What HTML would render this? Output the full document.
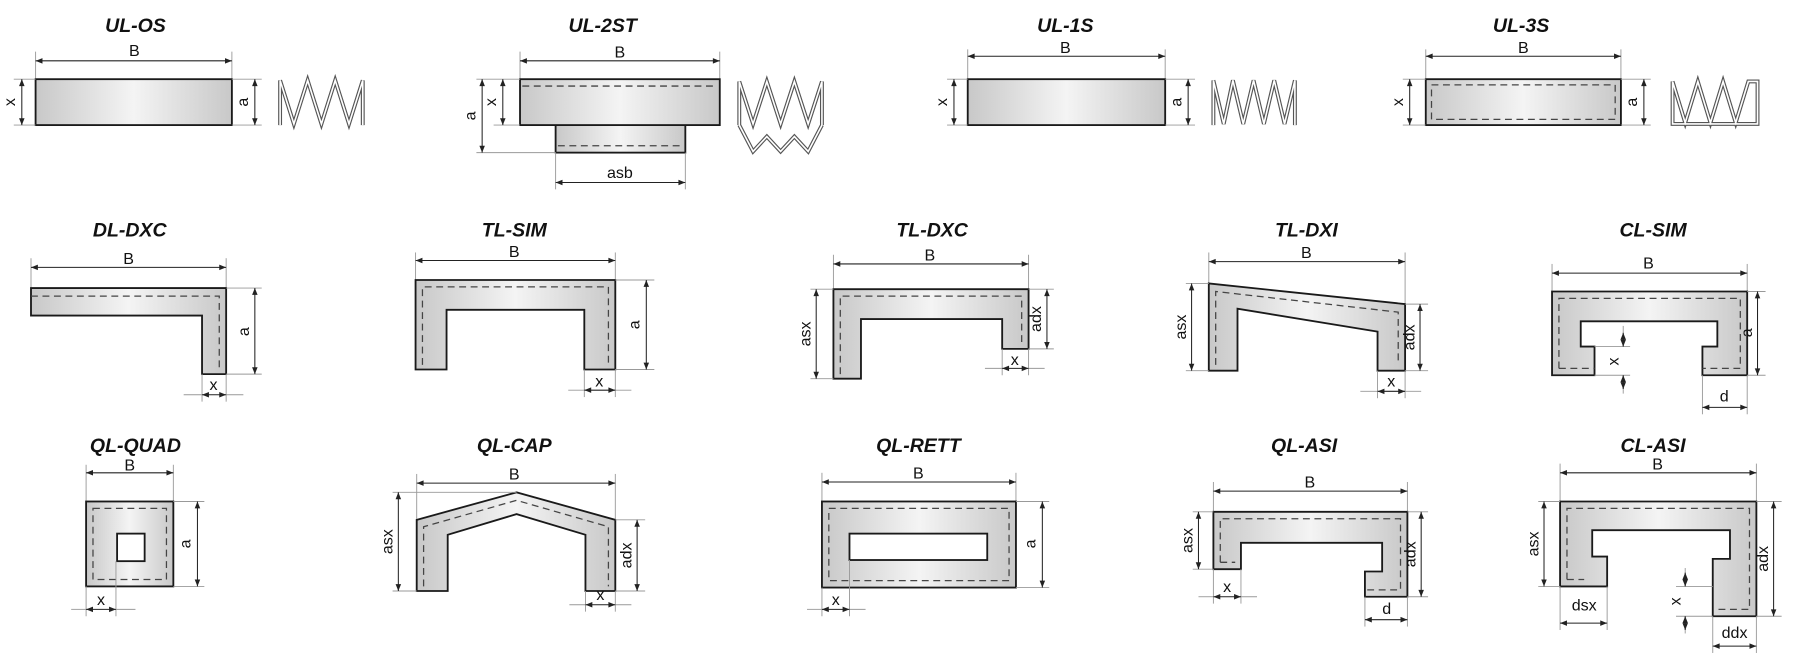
<!DOCTYPE html>
<html><head><meta charset="utf-8"><style>
html,body{margin:0;padding:0;background:#fff;}
svg{display:block}
.t{font-family:"Liberation Sans",sans-serif;font-weight:bold;font-style:italic;font-size:17px;fill:#111;text-anchor:middle}
.l{font-family:"Liberation Sans",sans-serif;font-size:14px;fill:#111;text-anchor:middle}
.s{fill:url(#g);stroke:#1a1a1a;stroke-width:1.6}
.h{fill:#fff;stroke:#1a1a1a;stroke-width:1.6}
.d{fill:none;stroke:#444;stroke-width:1.1;stroke-dasharray:6 4}
.m{stroke:#222;stroke-width:0.9;marker-start:url(#a);marker-end:url(#a)}
.e{stroke:#999;stroke-width:0.8}
.sp{fill:none;stroke:#555;stroke-width:3.4;stroke-linejoin:miter}
.sp2{fill:none;stroke:#fff;stroke-width:1.4;stroke-linejoin:miter}
</style></head><body>
<svg width="1800" height="661" viewBox="0 0 1568 576" preserveAspectRatio="none" xmlns="http://www.w3.org/2000/svg">
<defs>
<linearGradient id="g" x1="0" x2="1" y1="0" y2="0"><stop offset="0" stop-color="#c8c8c8"/><stop offset="0.5" stop-color="#f4f4f4"/><stop offset="1" stop-color="#c8c8c8"/></linearGradient>
<marker id="a" viewBox="0 0 10 10" refX="10" refY="5" markerWidth="8" markerHeight="6" orient="auto-start-reverse" markerUnits="userSpaceOnUse"><path d="M0,1 L10,5 L0,9 z" fill="#222"/></marker>
</defs>

<!-- ROW 1 -->
<text class="t" x="118" y="28">UL-OS</text>
<line class="e" x1="31" y1="45" x2="31" y2="69"/><line class="e" x1="202" y1="45" x2="202" y2="69"/>
<line class="m" x1="31" y1="53" x2="202" y2="53"/><text class="l" x="117" y="49">B</text>
<rect class="s" x="31" y="69" width="171" height="40"/>
<line class="e" x1="12" y1="69" x2="31" y2="69"/><line class="e" x1="12" y1="109" x2="31" y2="109"/>
<line class="m" x1="19" y1="69" x2="19" y2="109"/><text class="l" transform="translate(13,89) rotate(-90)">x</text>
<line class="e" x1="202" y1="69" x2="228" y2="69"/><line class="e" x1="202" y1="109" x2="228" y2="109"/>
<line class="m" x1="222" y1="69" x2="222" y2="109"/><text class="l" transform="translate(216,89) rotate(-90)">a</text>
<path class="sp" d="M244,109 L244,70 L256,108 L268,70 L280,108 L292,70 L304,108 L316,70 L316,109"/>
<path class="sp2" d="M244,109 L244,70 L256,108 L268,70 L280,108 L292,70 L304,108 L316,70 L316,109"/>

<text class="t" x="525" y="28">UL-2ST</text>
<line class="e" x1="453" y1="45" x2="453" y2="69"/><line class="e" x1="627" y1="45" x2="627" y2="69"/>
<line class="m" x1="453" y1="53" x2="627" y2="53"/><text class="l" x="540" y="50">B</text>
<rect class="s" x="484" y="109" width="113" height="24"/>
<line class="d" x1="486" y1="127" x2="595" y2="127"/>
<rect class="s" x="453" y="69" width="174" height="40"/>
<line class="d" x1="455" y1="75" x2="625" y2="75"/>
<line class="e" x1="415" y1="69" x2="453" y2="69"/><line class="e" x1="430" y1="109" x2="453" y2="109"/><line class="e" x1="415" y1="133" x2="484" y2="133"/>
<line class="m" x1="420" y1="69" x2="420" y2="133"/><text class="l" transform="translate(414,101) rotate(-90)">a</text>
<line class="m" x1="438" y1="69" x2="438" y2="109"/><text class="l" transform="translate(432,89) rotate(-90)">x</text>
<line class="e" x1="484" y1="133" x2="484" y2="165"/><line class="e" x1="597" y1="133" x2="597" y2="165"/>
<line class="m" x1="484" y1="159" x2="597" y2="159"/><text class="l" x="540" y="155">asb</text>
<path class="sp" d="M644,109 L644,71 L656,108 L668,71 L680,108 L692,71 L704,108 L716,71 L716,109 M644,109 L656,132 L668,119 L680,132 L692,119 L704,132 L716,109"/>
<path class="sp2" d="M644,109 L644,71 L656,108 L668,71 L680,108 L692,71 L704,108 L716,71 L716,109 M644,109 L656,132 L668,119 L680,132 L692,119 L704,132 L716,109"/>

<text class="t" x="928" y="28">UL-1S</text>
<line class="e" x1="843" y1="43" x2="843" y2="69"/><line class="e" x1="1015" y1="43" x2="1015" y2="69"/>
<line class="m" x1="843" y1="49" x2="1015" y2="49"/><text class="l" x="928" y="46">B</text>
<rect class="s" x="843" y="69" width="172" height="40"/>
<line class="e" x1="825" y1="69" x2="843" y2="69"/><line class="e" x1="825" y1="109" x2="843" y2="109"/>
<line class="m" x1="831" y1="69" x2="831" y2="109"/><text class="l" transform="translate(825,89) rotate(-90)">x</text>
<line class="e" x1="1015" y1="69" x2="1041" y2="69"/><line class="e" x1="1015" y1="109" x2="1041" y2="109"/>
<line class="m" x1="1035" y1="69" x2="1035" y2="109"/><text class="l" transform="translate(1029,89) rotate(-90)">a</text>
<path class="sp" d="M1057,109 L1057,70 L1066,108 L1074,70 L1083,108 L1092,70 L1101,108 L1110,70 L1119,108 L1128,70 L1128,109"/>
<path class="sp2" d="M1057,109 L1057,70 L1066,108 L1074,70 L1083,108 L1092,70 L1101,108 L1110,70 L1119,108 L1128,70 L1128,109"/>

<text class="t" x="1325" y="28">UL-3S</text>
<line class="e" x1="1242" y1="43" x2="1242" y2="69"/><line class="e" x1="1412" y1="43" x2="1412" y2="69"/>
<line class="m" x1="1242" y1="49" x2="1412" y2="49"/><text class="l" x="1327" y="46">B</text>
<rect class="s" x="1242" y="69" width="170" height="40"/>
<rect class="d" x="1247" y="74" width="160" height="30"/>
<line class="e" x1="1222" y1="69" x2="1242" y2="69"/><line class="e" x1="1222" y1="109" x2="1242" y2="109"/>
<line class="m" x1="1228" y1="69" x2="1228" y2="109"/><text class="l" transform="translate(1222,89) rotate(-90)">x</text>
<line class="e" x1="1412" y1="69" x2="1438" y2="69"/><line class="e" x1="1412" y1="109" x2="1438" y2="109"/>
<line class="m" x1="1432" y1="69" x2="1432" y2="109"/><text class="l" transform="translate(1426,89) rotate(-90)">a</text>
<path class="sp" d="M1457,108 L1457,71 L1468,107 L1479,71 L1490,107 L1501,71 L1512,107 L1523,71 L1531,71 L1531,108 Z"/>
<path class="sp2" d="M1457,108 L1457,71 L1468,107 L1479,71 L1490,107 L1501,71 L1512,107 L1523,71 L1531,71 L1531,108 Z"/>

<!-- ROW 2 -->
<text class="t" x="113" y="206">DL-DXC</text>
<line class="e" x1="27" y1="225" x2="27" y2="251"/><line class="e" x1="197" y1="225" x2="197" y2="251"/>
<line class="m" x1="27" y1="233" x2="197" y2="233"/><text class="l" x="112" y="230">B</text>
<path class="s" d="M27,251 L197,251 L197,326 L176,326 L176,275 L27,275 Z"/>
<path class="d" d="M27,258 L191,258 L191,322"/>
<line class="e" x1="197" y1="251" x2="228" y2="251"/><line class="e" x1="197" y1="326" x2="228" y2="326"/>
<line class="m" x1="222" y1="251" x2="222" y2="326"/><text class="l" transform="translate(217,289) rotate(-90)">a</text>
<line class="e" x1="176" y1="326" x2="176" y2="350"/><line class="e" x1="197" y1="326" x2="197" y2="350"/>
<line class="e" x1="160" y1="344" x2="176" y2="344"/><line class="e" x1="197" y1="344" x2="212" y2="344"/>
<line class="m" x1="176" y1="344" x2="197" y2="344"/><text class="l" x="186" y="340">x</text>

<text class="t" x="448" y="206">TL-SIM</text>
<line class="e" x1="362" y1="220" x2="362" y2="244"/><line class="e" x1="536" y1="220" x2="536" y2="244"/>
<line class="m" x1="362" y1="227" x2="536" y2="227"/><text class="l" x="448" y="224">B</text>
<path class="s" d="M362,244 L536,244 L536,322 L509,322 L509,270 L389,270 L389,322 L362,322 Z"/>
<path class="d" d="M368,318 L368,250 L530,250 L530,318"/>
<line class="e" x1="536" y1="244" x2="570" y2="244"/><line class="e" x1="536" y1="322" x2="570" y2="322"/>
<line class="m" x1="563" y1="244" x2="563" y2="322"/><text class="l" transform="translate(557,283) rotate(-90)">a</text>
<line class="e" x1="509" y1="322" x2="509" y2="346"/><line class="e" x1="536" y1="322" x2="536" y2="346"/>
<line class="e" x1="495" y1="340" x2="509" y2="340"/><line class="e" x1="536" y1="340" x2="550" y2="340"/>
<line class="m" x1="509" y1="340" x2="536" y2="340"/><text class="l" x="522" y="337">x</text>

<text class="t" x="812" y="206">TL-DXC</text>
<line class="e" x1="726" y1="222" x2="726" y2="252"/><line class="e" x1="896" y1="222" x2="896" y2="252"/>
<line class="m" x1="726" y1="230" x2="896" y2="230"/><text class="l" x="810" y="227">B</text>
<path class="s" d="M726,252 L896,252 L896,304 L873,304 L873,278 L750,278 L750,330 L726,330 Z"/>
<path class="d" d="M732,326 L732,258 L890,258 L890,300"/>
<line class="e" x1="706" y1="252" x2="726" y2="252"/><line class="e" x1="706" y1="330" x2="726" y2="330"/>
<line class="m" x1="711" y1="252" x2="711" y2="330"/><text class="l" transform="translate(706,291) rotate(-90)">asx</text>
<line class="e" x1="896" y1="252" x2="918" y2="252"/><line class="e" x1="896" y1="304" x2="918" y2="304"/>
<line class="m" x1="912" y1="252" x2="912" y2="304"/><text class="l" transform="translate(907,278) rotate(-90)">adx</text>
<line class="e" x1="873" y1="304" x2="873" y2="327"/><line class="e" x1="896" y1="304" x2="896" y2="327"/>
<line class="e" x1="858" y1="321" x2="873" y2="321"/><line class="e" x1="896" y1="321" x2="910" y2="321"/>
<line class="m" x1="873" y1="321" x2="896" y2="321"/><text class="l" x="884" y="318">x</text>

<text class="t" x="1138" y="206">TL-DXI</text>
<line class="e" x1="1053" y1="220" x2="1053" y2="247"/><line class="e" x1="1224" y1="220" x2="1224" y2="265"/>
<line class="m" x1="1053" y1="228" x2="1224" y2="228"/><text class="l" x="1138" y="225">B</text>
<path class="s" d="M1053,247 L1224,265 L1224,323 L1200,323 L1200,289 L1078,269 L1078,323 L1053,323 Z"/>
<path class="d" d="M1059,318 L1059,254 L1218,272 L1218,318"/>
<line class="e" x1="1033" y1="247" x2="1053" y2="247"/><line class="e" x1="1033" y1="323" x2="1053" y2="323"/>
<line class="m" x1="1038" y1="247" x2="1038" y2="323"/><text class="l" transform="translate(1033,285) rotate(-90)">asx</text>
<line class="e" x1="1224" y1="265" x2="1244" y2="265"/><line class="e" x1="1224" y1="323" x2="1244" y2="323"/>
<line class="m" x1="1237" y1="265" x2="1237" y2="323"/><text class="l" transform="translate(1232,294) rotate(-90)">adx</text>
<line class="e" x1="1200" y1="323" x2="1200" y2="347"/><line class="e" x1="1224" y1="323" x2="1224" y2="347"/>
<line class="e" x1="1185" y1="341" x2="1200" y2="341"/><line class="e" x1="1224" y1="341" x2="1238" y2="341"/>
<line class="m" x1="1200" y1="341" x2="1224" y2="341"/><text class="l" x="1212" y="337">x</text>

<text class="t" x="1440" y="206">CL-SIM</text>
<line class="e" x1="1352" y1="230" x2="1352" y2="254"/><line class="e" x1="1522" y1="230" x2="1522" y2="254"/>
<line class="m" x1="1352" y1="238" x2="1522" y2="238"/><text class="l" x="1436" y="234">B</text>
<path class="s" d="M1352,254 L1522,254 L1522,327 L1483,327 L1483,302 L1496,302 L1496,280 L1377,280 L1377,302 L1389,302 L1389,327 L1352,327 Z"/>
<path class="d" d="M1358,321 L1389,321 M1358,321 L1358,260 L1516,260 L1516,321 L1483,321"/>
<line class="e" x1="1522" y1="254" x2="1538" y2="254"/><line class="e" x1="1522" y1="327" x2="1538" y2="327"/>
<line class="m" x1="1531" y1="254" x2="1531" y2="327"/><text class="l" transform="translate(1526,290) rotate(-90)">a</text>
<line class="e" x1="1389" y1="302" x2="1420" y2="302"/><line class="e" x1="1389" y1="327" x2="1420" y2="327"/>
<line class="e" x1="1414" y1="284" x2="1414" y2="302"/><line class="e" x1="1414" y1="327" x2="1414" y2="343"/>
<line class="m" x1="1414" y1="290" x2="1414" y2="302"/><line class="m" x1="1414" y1="339" x2="1414" y2="327"/>
<text class="l" transform="translate(1410,315) rotate(-90)">x</text>
<line class="e" x1="1483" y1="327" x2="1483" y2="361"/><line class="e" x1="1522" y1="327" x2="1522" y2="361"/>
<line class="m" x1="1483" y1="355" x2="1522" y2="355"/><text class="l" x="1502" y="350">d</text>

<!-- ROW 3 -->
<text class="t" x="118" y="394">QL-QUAD</text>
<line class="e" x1="75" y1="405" x2="75" y2="437"/><line class="e" x1="151" y1="405" x2="151" y2="437"/>
<line class="m" x1="75" y1="412" x2="151" y2="412"/><text class="l" x="113" y="410">B</text>
<rect class="s" x="75" y="437" width="76" height="74"/>
<rect class="d" x="81" y="443" width="64" height="62"/>
<rect class="h" x="102" y="465" width="24" height="24"/>
<line class="e" x1="151" y1="437" x2="178" y2="437"/><line class="e" x1="151" y1="511" x2="178" y2="511"/>
<line class="m" x1="172" y1="437" x2="172" y2="511"/><text class="l" transform="translate(166,474) rotate(-90)">a</text>
<line class="e" x1="75" y1="511" x2="75" y2="537"/><line class="e" x1="101" y1="489" x2="101" y2="537"/>
<line class="e" x1="62" y1="531" x2="75" y2="531"/><line class="e" x1="101" y1="531" x2="118" y2="531"/>
<line class="m" x1="75" y1="531" x2="101" y2="531"/><text class="l" x="88" y="527">x</text>

<text class="t" x="448" y="394">QL-CAP</text>
<line class="e" x1="363" y1="413" x2="363" y2="453"/><line class="e" x1="536" y1="413" x2="536" y2="453"/>
<line class="m" x1="363" y1="421" x2="536" y2="421"/><text class="l" x="448" y="418">B</text>
<path class="s" d="M363,453 L450,429 L536,453 L536,515 L510,515 L510,466 L450,448 L390,466 L390,515 L363,515 Z"/>
<path class="d" d="M369,511 L369,459 L450,436 L530,459 L530,511"/>
<line class="e" x1="342" y1="429" x2="450" y2="429"/><line class="e" x1="342" y1="515" x2="363" y2="515"/>
<line class="m" x1="347" y1="429" x2="347" y2="515"/><text class="l" transform="translate(342,472) rotate(-90)">asx</text>
<line class="e" x1="536" y1="453" x2="562" y2="453"/><line class="e" x1="536" y1="515" x2="562" y2="515"/>
<line class="m" x1="555" y1="453" x2="555" y2="515"/><text class="l" transform="translate(550,484) rotate(-90)">adx</text>
<line class="e" x1="510" y1="515" x2="510" y2="533"/><line class="e" x1="536" y1="515" x2="536" y2="533"/>
<line class="e" x1="496" y1="527" x2="510" y2="527"/><line class="e" x1="536" y1="527" x2="550" y2="527"/>
<line class="m" x1="510" y1="527" x2="536" y2="527"/><text class="l" x="523" y="523">x</text>

<text class="t" x="800" y="394">QL-RETT</text>
<line class="e" x1="716" y1="412" x2="716" y2="437"/><line class="e" x1="885" y1="412" x2="885" y2="437"/>
<line class="m" x1="716" y1="420" x2="885" y2="420"/><text class="l" x="800" y="417">B</text>
<rect class="s" x="716" y="437" width="169" height="75"/>
<rect class="d" x="722" y="443" width="157" height="63"/>
<rect class="h" x="740" y="465" width="120" height="23"/>
<line class="e" x1="885" y1="437" x2="914" y2="437"/><line class="e" x1="885" y1="512" x2="914" y2="512"/>
<line class="m" x1="908" y1="437" x2="908" y2="512"/><text class="l" transform="translate(902,474) rotate(-90)">a</text>
<line class="e" x1="716" y1="512" x2="716" y2="537"/><line class="e" x1="740" y1="488" x2="740" y2="537"/>
<line class="e" x1="703" y1="531" x2="716" y2="531"/><line class="e" x1="740" y1="531" x2="754" y2="531"/>
<line class="m" x1="716" y1="531" x2="740" y2="531"/><text class="l" x="728" y="527">x</text>

<text class="t" x="1136" y="394">QL-ASI</text>
<line class="e" x1="1057" y1="420" x2="1057" y2="446"/><line class="e" x1="1226" y1="420" x2="1226" y2="446"/>
<line class="m" x1="1057" y1="428" x2="1226" y2="428"/><text class="l" x="1141" y="425">B</text>
<path class="s" d="M1057,446 L1226,446 L1226,520 L1189,520 L1189,498 L1204,498 L1204,473 L1081,473 L1081,496 L1057,496 Z"/>
<path class="d" d="M1063,490 L1076,490 M1063,490 L1063,452 L1220,452 L1220,514 L1189,514"/>
<line class="e" x1="1039" y1="446" x2="1057" y2="446"/><line class="e" x1="1039" y1="496" x2="1057" y2="496"/>
<line class="m" x1="1044" y1="446" x2="1044" y2="496"/><text class="l" transform="translate(1039,471) rotate(-90)">asx</text>
<line class="e" x1="1226" y1="446" x2="1244" y2="446"/><line class="e" x1="1226" y1="520" x2="1244" y2="520"/>
<line class="m" x1="1238" y1="446" x2="1238" y2="520"/><text class="l" transform="translate(1233,483) rotate(-90)">adx</text>
<line class="e" x1="1057" y1="496" x2="1057" y2="526"/><line class="e" x1="1081" y1="496" x2="1081" y2="526"/>
<line class="e" x1="1044" y1="520" x2="1057" y2="520"/><line class="e" x1="1081" y1="520" x2="1095" y2="520"/>
<line class="m" x1="1057" y1="520" x2="1081" y2="520"/><text class="l" x="1069" y="516">x</text>
<line class="e" x1="1189" y1="520" x2="1189" y2="546"/><line class="e" x1="1226" y1="520" x2="1226" y2="546"/>
<line class="m" x1="1189" y1="540" x2="1226" y2="540"/><text class="l" x="1208" y="535">d</text>

<text class="t" x="1440" y="394">CL-ASI</text>
<line class="e" x1="1359" y1="404" x2="1359" y2="437"/><line class="e" x1="1530" y1="404" x2="1530" y2="437"/>
<line class="m" x1="1359" y1="412" x2="1530" y2="412"/><text class="l" x="1444" y="409">B</text>
<path class="s" d="M1359,437 L1530,437 L1530,537 L1492,537 L1492,487 L1507,487 L1507,462 L1387,462 L1387,485 L1400,485 L1400,511 L1359,511 Z"/>
<path class="d" d="M1365,505 L1380,505 M1365,505 L1365,443 L1524,443 L1524,531 L1494,531"/>
<line class="e" x1="1340" y1="437" x2="1359" y2="437"/><line class="e" x1="1340" y1="511" x2="1359" y2="511"/>
<line class="m" x1="1345" y1="437" x2="1345" y2="511"/><text class="l" transform="translate(1340,474) rotate(-90)">asx</text>
<line class="e" x1="1530" y1="437" x2="1552" y2="437"/><line class="e" x1="1530" y1="537" x2="1552" y2="537"/>
<line class="m" x1="1545" y1="437" x2="1545" y2="537"/><text class="l" transform="translate(1540,487) rotate(-90)">adx</text>
<line class="e" x1="1460" y1="511" x2="1492" y2="511"/><line class="e" x1="1460" y1="537" x2="1492" y2="537"/>
<line class="e" x1="1468" y1="495" x2="1468" y2="511"/><line class="e" x1="1468" y1="537" x2="1468" y2="552"/>
<line class="m" x1="1468" y1="499" x2="1468" y2="511"/><line class="m" x1="1468" y1="549" x2="1468" y2="537"/>
<text class="l" transform="translate(1464,524) rotate(-90)">x</text>
<line class="e" x1="1359" y1="511" x2="1359" y2="549"/><line class="e" x1="1400" y1="511" x2="1400" y2="549"/>
<line class="m" x1="1359" y1="543" x2="1400" y2="543"/><text class="l" x="1380" y="532">dsx</text>
<line class="e" x1="1492" y1="537" x2="1492" y2="569"/><line class="e" x1="1530" y1="537" x2="1530" y2="569"/>
<line class="m" x1="1492" y1="563" x2="1530" y2="563"/><text class="l" x="1511" y="556">ddx</text>
</svg>
</body></html>
